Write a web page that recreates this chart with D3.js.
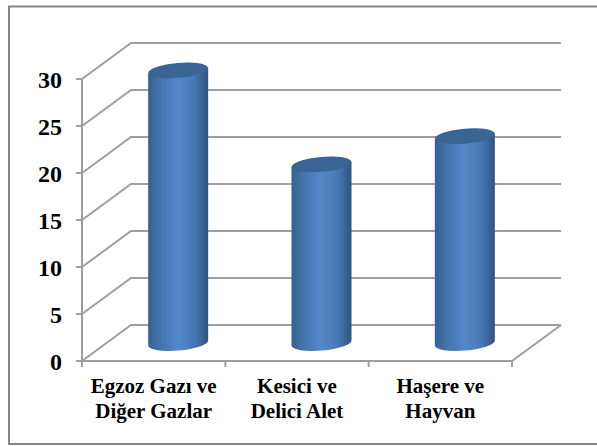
<!DOCTYPE html>
<html>
  <head>
    <title>Bars</title>
    <script src="https://cdn.jsdelivr.net/npm/d3@7/dist/d3.min.js"></script>
    <style>
      html, body { margin: 0; padding: 0; background: #fff; }
      svg { display: block; }
      text { font-family: "Liberation Serif", serif; font-weight: bold; fill: #000; }
    </style>
  </head>
  <body>
    <svg width="597" height="446" id="mainsvg"></svg>
    <script>
    const categories = ['Egzoz Gazı ve|Diğer Gazlar', 'Kesici ve|Delici Alet', 'Haşere ve|Hayvan'];
    const values = [29, 19, 22];
    const yTicks = [0, 5, 10, 15, 20, 25, 30];

    const svg = d3.select('#mainsvg');
    const gridColor = '#9e9e9e';
    const depthX = 49, depthY = -36;   // fake 3d offset of the back wall
    const barW = 60, barRy = 7.5, tilt = -5;

    const x = d3.scaleBand().domain(categories).range([82, 512]);
    const y = d3.scaleLinear().domain([0, 30]).range([361, 79]);

    // outer frame, open on the right (runs off the page)
    svg.append('path')
      .attr('fill', 'none').attr('stroke', '#868686').attr('stroke-width', 2)
      .attr('d', 'M597,6.5H9V444H597');

    const defs = svg.append('defs');
    const grad = defs.append('linearGradient').attr('id', 'barGrad');
    [[0, '#33608f'], [0.18, '#4272ab'], [0.5, '#5588ca'], [0.78, '#4777b2'], [1, '#2e5480']].forEach(s => {
      grad.append('stop').attr('offset', s[0]).attr('stop-color', s[1]);
    });

    // gridlines on the side and back walls
    svg.selectAll('.grid').data(yTicks).join('path')
      .attr('class', 'grid')
      .attr('fill', 'none')
      .attr('stroke', gridColor)
      .attr('stroke-width', 2)
      .attr('d', d => `M${x.range()[0]},${y(d)}l${depthX},${depthY}H${x.range()[1] + depthX}`);

    // floor edge and left axis
    svg.append('path')
      .attr('fill', 'none').attr('stroke', gridColor).attr('stroke-width', 2)
      .attr('d', `M${x.range()[0]},${y(30)}V${y(0)}H${x.range()[1]}l${depthX},${depthY}`);

    // ticks
    svg.selectAll('.ytick').data(yTicks).join('line')
      .attr('class', 'ytick')
      .attr('x1', 76).attr('x2', 82)
      .attr('y1', d => y(d)).attr('y2', d => y(d))
      .attr('stroke', gridColor).attr('stroke-width', 2);
    svg.selectAll('.xtick').data([...categories.map(c => x(c)), x.range()[1]]).join('line')
      .attr('class', 'xtick')
      .attr('x1', d => d).attr('x2', d => d)
      .attr('y1', y(0)).attr('y2', y(0) + 6)
      .attr('stroke', gridColor).attr('stroke-width', 2);

    // y labels
    svg.selectAll('.ylab').data(yTicks).join('text')
      .attr('class', 'ylab')
      .attr('x', 62).attr('y', d => y(d) + 8.5)
      .attr('text-anchor', 'end')
      .attr('font-size', 24)
      .text(d => d);

    // cylinders
    const bars = svg.selectAll('.bar').data(categories).join('g').attr('class', 'bar');
    const slope = Math.tan(tilt * Math.PI / 180) * barW / 2;
    bars.append('path')
      .attr('fill', 'url(#barGrad)')
      .attr('d', (c, i) => {
        const cx = x(c) + x.bandwidth() / 2 + depthX / 2;
        const top = y(values[i]) + depthY / 2, base = y(0) + depthY / 2;
        return `M${cx - barW / 2},${top - slope}L${cx + barW / 2},${top + slope}`
          + `L${cx + barW / 2},${base + slope}`
          + `A${barW / 2},${barRy} ${tilt} 0 1 ${cx - barW / 2},${base - slope}Z`;
      });
    bars.append('ellipse')
      .attr('rx', barW / 2).attr('ry', barRy)
      .attr('fill', '#3a6494')
      .attr('transform', (c, i) => `translate(${x(c) + x.bandwidth() / 2 + depthX / 2},${y(values[i]) + depthY / 2}) rotate(${tilt})`);

    // category labels
    const labels = svg.selectAll('.xlab').data(categories).join('text')
      .attr('class', 'xlab')
      .attr('text-anchor', 'middle')
      .attr('font-size', 21);
    labels.selectAll('tspan').data(c => c.split('|').map(t => ({ t, c }))).join('tspan')
      .attr('x', d => x(d.c) + x.bandwidth() / 2)
      .attr('y', (d, i) => 393 + i * 25)
      .text(d => d.t);
    </script>
  </body>
</html>
